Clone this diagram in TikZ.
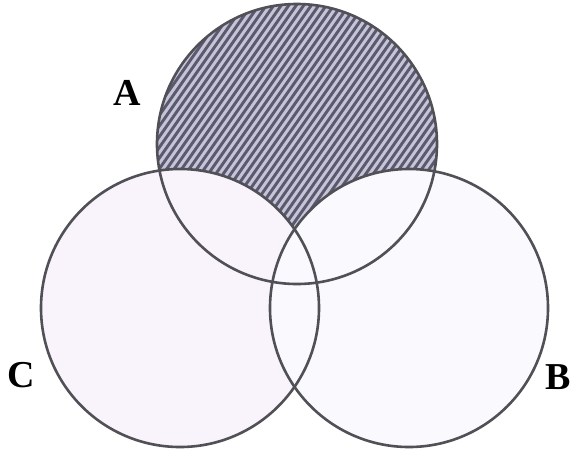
\documentclass[tikz,border=0pt]{standalone}
\usepackage{fontspec}
\newfontfamily\lblfont{Liberation Serif}
\definecolor{hatchbg}{HTML}{C6C5D8}
\definecolor{hatchfg}{HTML}{5A596E}
\definecolor{ringcol}{HTML}{505056}
\definecolor{fillC}{HTML}{F9F4FC}
\definecolor{fillB}{HTML}{FAF9FD}
\begin{document}
\begin{tikzpicture}[x=1pt,y=-1pt,
  ring/.style={draw=ringcol,line width=2.6pt},
  hatchline/.style={draw=hatchfg,line width=2.9pt},
  lbl/.style={font=\lblfont\bfseries\fontsize{38}{38}\selectfont,text=black,inner sep=0pt}]
\useasboundingbox[fill=white] (0,0) rectangle (573,451);
\coordinate (cA) at (297,144);
\coordinate (cC) at (180,308);
\coordinate (cB) at (409,308);
% hatched circle A
\fill[hatchbg] (cA) circle[radius=140pt];
\begin{scope}
  \clip (cA) circle[radius=140pt];
  \foreach \i in {-10,...,62} \draw[hatchline] ({\i*7.5},300) -- ++(210,-300);
\end{scope}
% circles C and B cover parts of A
\fill[fillC] (cC) circle[radius=139pt];
\fill[fillB] (cB) circle[radius=139pt];
% outlines
\draw[ring] (cA) circle[radius=140pt];
\draw[ring] (cC) circle[radius=139pt];
\draw[ring] (cB) circle[radius=139pt];
% labels
\node[lbl] (labA) at (127,93) {A};
\node[lbl] (labC) at (21,375) {C};
\node[lbl] (labB) at (558,377) {B};
\end{tikzpicture}
\end{document}
